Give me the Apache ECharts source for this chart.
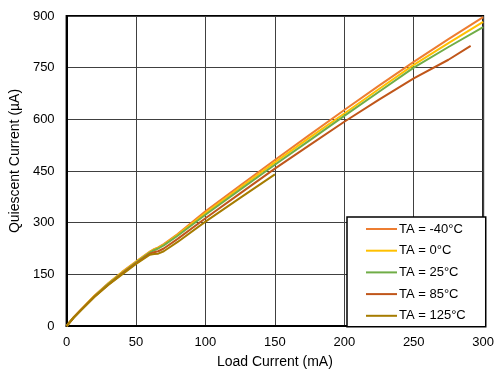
<!DOCTYPE html>
<html>
<head>
<meta charset="utf-8">
<script src="https://cdn.jsdelivr.net/npm/echarts@6/dist/echarts.min.js"></script>
<style>
  html, body { margin: 0; padding: 0; background: #fff; }
  #chart { width: 497px; height: 374px; }
</style>
</head>
<body>
<div id="chart"></div>
<script>
// Load current (mA) sample points
const loadCurrent = [0, 5, 10, 20, 30, 40, 50, 60, 63, 66, 70, 80, 100, 125, 150, 175, 200, 225, 250, 275, 300];
const loadCurrent85 = [0, 5, 10, 20, 30, 40, 50, 60, 63, 66, 70, 80, 100, 125, 150, 175, 200, 225, 250, 275, 291];
const loadCurrent125 = [0, 5, 10, 20, 30, 40, 50, 60, 63, 66, 70, 80, 100, 125, 150];

// Quiescent current (µA) per ambient temperature
const iqMinus40 = [0, 25, 46, 88, 124, 157, 187, 216, 223, 228, 238, 267, 333, 408, 482, 555, 627, 698, 767, 833, 897];
const iq0 = [0, 25, 46, 87, 123, 156, 186, 215, 222, 227, 236, 265, 328, 402, 475, 547, 617, 688, 758, 821, 883];
const iq25 = [0, 24, 45, 86, 122, 154, 184, 213, 220, 225, 234, 262, 323, 396, 468, 539, 610, 680, 750, 810, 868];
const iq85 = [0, 24, 45, 85, 120, 152, 182, 210, 214, 217, 225, 253, 313, 385, 457, 525, 593, 657, 719, 773, 813];
const iq125 = [0, 24, 44, 84, 119, 150, 180, 207, 209, 210, 217, 244, 303, 372, 440];

const seriesNames = ['TA = -40°C', 'TA = 0°C', 'TA = 25°C', 'TA = 85°C', 'TA = 125°C'];
const seriesColors = ['#ED7D31', '#FFC000', '#70AD47', '#C0561A', '#A67C00'];
const xTicks = [0, 50, 100, 150, 200, 250, 300];
const yTicks = [0, 150, 300, 450, 600, 750, 900];

const pairs = (xs, ys) => xs.map((x, i) => [x, ys[i]]);
const curves = [
  pairs(loadCurrent, iqMinus40),
  pairs(loadCurrent, iq0),
  pairs(loadCurrent, iq25),
  pairs(loadCurrent85, iq85),
  pairs(loadCurrent125, iq125)
];

const font = 'Liberation Sans, Arial, sans-serif';
const chart = echarts.init(document.getElementById('chart'));

chart.setOption({
  animation: false,
  backgroundColor: '#fff',
  grid: {
    left: 66, right: 11, top: 16, bottom: 48,
    show: true, borderColor: '#000', borderWidth: 2
  },
  xAxis: {
    type: 'value',
    min: xTicks[0], max: xTicks[xTicks.length - 1], interval: 50,
    name: 'Load Current (mA)',
    nameLocation: 'middle', nameGap: 29,
    nameTextStyle: { fontFamily: font, fontSize: 14, color: '#000' },
    axisLine: { show: true, onZero: false, lineStyle: { color: '#000', width: 2 } },
    axisTick: { show: false },
    axisLabel: { fontFamily: font, fontSize: 13, color: '#000', margin: 10 },
    splitLine: { show: true, lineStyle: { color: '#404040', width: 1 } }
  },
  yAxis: {
    type: 'value',
    min: yTicks[0], max: yTicks[yTicks.length - 1], interval: 150,
    name: 'Quiescent Current (µA)',
    nameLocation: 'middle', nameGap: 37,
    nameTextStyle: { fontFamily: font, fontSize: 14, color: '#000', padding: [0, 0, 0, 20] },
    axisLine: { show: true, lineStyle: { color: '#000', width: 2 } },
    axisTick: { show: false },
    axisLabel: { fontFamily: font, fontSize: 13, color: '#000', margin: 12 },
    splitLine: { show: true, lineStyle: { color: '#404040', width: 1 } }
  },
  legend: {
    orient: 'vertical',
    left: 347, top: 217,
    width: 139,
    padding: [5, 20, 4, 19],
    backgroundColor: '#fff',
    borderColor: '#000',
    borderWidth: 1.5,
    borderRadius: 0,
    icon: 'rect',
    itemWidth: 31, itemHeight: 2, itemGap: 7.7,
    textStyle: { fontFamily: font, fontSize: 13, lineHeight: 14, color: '#000', padding: [0, 0, 0, -3] },
    data: seriesNames,
    z: 10
  },
  series: curves.map((d, i) => ({
    name: seriesNames[i],
    type: 'line',
    data: d,
    symbol: 'none',
    smooth: false,
    color: seriesColors[i],
    lineStyle: { color: seriesColors[i], width: 2 }
  }))
});
</script>
</body>
</html>
